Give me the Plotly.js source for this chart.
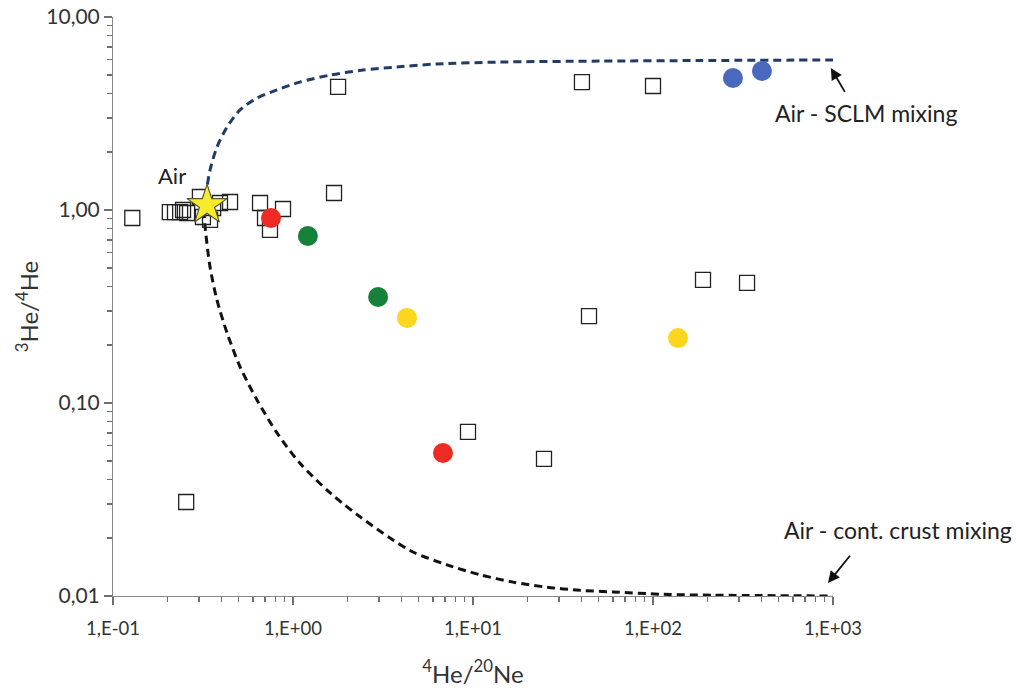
<!DOCTYPE html>
<html>
<head>
<meta charset="utf-8">
<script src="https://cdn.plot.ly/plotly-3.0.1.min.js"></script>
<style>html,body{margin:0;padding:0;background:#fff;}#chart{width:1016px;height:694px;}</style>
</head>
<body>
<div id="chart"></div>
<script>
// Air - SCLM mixing curve
var sclmX = [0.32, 0.333, 0.346, 0.378, 0.430, 0.508, 0.631, 0.815, 1.09, 1.61, 2.45, 3.78, 6.31, 14.1, 50.8, 182, 1000];
var sclmY = [1.0, 1.316, 1.61, 2.12, 2.69, 3.30, 3.80, 4.19, 4.60, 5.00, 5.31, 5.51, 5.71, 5.84, 5.91, 5.95, 5.99];
// Air - continental crust mixing curve
var crustX = [0.32, 0.324, 0.346, 0.378, 0.430, 0.508, 0.631, 0.815, 1.09, 1.61, 2.36, 3.46, 4.64, 7.17, 10.9, 16.7, 25.8, 39.3, 59.9, 113.6, 215, 1000];
var crustY = [1.0, 0.836, 0.507, 0.342, 0.231, 0.154, 0.1037, 0.0700, 0.0489, 0.0342, 0.0257, 0.0200, 0.0169, 0.0145, 0.0129, 0.0118, 0.0111, 0.0107, 0.0105, 0.0102, 0.0101, 0.0100];
// Literature data (open squares)
var litX = [0.128, 0.207, 0.221, 0.236, 0.245, 0.258, 0.304, 0.316, 0.346, 0.360, 0.393, 0.447, 0.656, 0.699, 0.745, 0.880, 1.69, 1.78, 40.3, 100, 189.6, 333, 44.1, 9.38, 24.8, 0.255];
var litY = [0.909, 0.976, 0.976, 0.976, 1.00, 0.965, 1.168, 0.920, 0.888, 1.024, 1.087, 1.10, 1.087, 0.909, 0.788, 1.012, 1.225, 4.34, 4.60, 4.39, 0.434, 0.419, 0.282, 0.0708, 0.0513, 0.0307];
// Samples (coloured circles)
var redX = [0.755, 6.81],  redY = [0.909, 0.0551];
var greenX = [1.21, 2.97], greenY = [0.733, 0.354];
var yellowX = [4.30, 137.7], yellowY = [0.276, 0.217];
var blueX = [278, 403], blueY = [4.83, 5.25];
// Air
var airX = [0.333], airY = [1.06];
// Ticks
var xTickVals = [0.1, 1, 10, 100, 1000];
var xTickText = ['1,E-01', '1,E+00', '1,E+01', '1,E+02', '1,E+03'];
var yTickVals = [0.01, 0.1, 1, 10];
var yTickText = ['0,01', '0,10', '1,00', '10,00'];
var minorDigits = [2, 3, 4, 5, 6, 7, 8, 9];
var xDecades = [0.1, 1, 10, 100];
var yDecades = [0.01, 0.1, 1];

function minorVals(decades) {
  var out = [];
  decades.forEach(function (d) { minorDigits.forEach(function (m) { out.push(d * m); }); });
  return out;
}

var FONT = 'Lato, "Open Sans", sans-serif';
var TICKC = '#6f6f6f';
var traces = [
  {x: sclmX, y: sclmY, mode: 'lines', line: {color: '#1f3b66', width: 3, dash: '8px,5px', shape: 'spline', smoothing: 0.8}, hoverinfo: 'skip'},
  {x: crustX, y: crustY, mode: 'lines', line: {color: '#111111', width: 3, dash: '8px,5px', shape: 'spline', smoothing: 0.8}, hoverinfo: 'skip'},
  {x: litX, y: litY, mode: 'markers', marker: {symbol: 'square-open', size: 15, color: '#222222', line: {width: 1.3, color: '#222222'}}},
  {x: redX, y: redY, mode: 'markers', marker: {symbol: 'circle', size: 20, color: '#ee2a24'}},
  {x: greenX, y: greenY, mode: 'markers', marker: {symbol: 'circle', size: 20, color: '#17803a'}},
  {x: yellowX, y: yellowY, mode: 'markers', marker: {symbol: 'circle', size: 20, color: '#fcd61e'}},
  {x: blueX, y: blueY, mode: 'markers', marker: {symbol: 'circle', size: 20, color: '#4a68bd'}},
  {x: airX, y: airY, mode: 'markers', marker: {symbol: 'star', size: 30, color: '#f7ec2c', line: {width: 1.2, color: '#555533'}}},
  // invisible helper trace so the minor-tick overlay axes are drawn
  {x: airX, y: airY, xaxis: 'x2', yaxis: 'y2', mode: 'markers', marker: {opacity: 0}, hoverinfo: 'skip'}
];

var layout = {
  width: 1016, height: 694,
  margin: {l: 113, r: 183, t: 17, b: 98},
  paper_bgcolor: '#ffffff', plot_bgcolor: '#ffffff',
  showlegend: false,
  font: {family: FONT, color: '#333333'},
  xaxis: {
    type: 'log', range: [-1, 3],
    tickmode: 'array', tickvals: xTickVals, ticktext: xTickText,
    ticks: 'outside', ticklen: 8, tickwidth: 1.5, tickcolor: TICKC,
    ticklabelstandoff: 8,
    showline: true, linecolor: '#888888', linewidth: 1,
    showgrid: false, zeroline: false,
    tickfont: {size: 18.5, family: FONT, color: '#333333'},
    title: {text: '<sup>4</sup>He/<sup>20</sup>Ne', font: {size: 24, family: FONT, color: '#333333'}, standoff: 27}
  },
  yaxis: {
    type: 'log', range: [-2, 1],
    tickmode: 'array', tickvals: yTickVals, ticktext: yTickText,
    ticks: 'outside', ticklen: 8, tickwidth: 1.5, tickcolor: TICKC,
    showline: true, linecolor: '#888888', linewidth: 1,
    showgrid: false, zeroline: false,
    tickfont: {size: 21, family: FONT, color: '#333333'},
    title: {text: '<sup>3</sup>He/<sup>4</sup>He', font: {size: 24, family: FONT, color: '#333333'}, standoff: 0}
  },
  xaxis2: {
    type: 'log', range: [-1, 3], overlaying: 'x', anchor: 'y', side: 'bottom',
    tickmode: 'array', tickvals: minorVals(xDecades), ticktext: minorVals(xDecades).map(function () { return ''; }),
    ticks: 'outside', ticklen: 5, tickwidth: 1.3, tickcolor: TICKC,
    showticklabels: true, showline: false, showgrid: false, zeroline: false
  },
  yaxis2: {
    type: 'log', range: [-2, 1], overlaying: 'y', anchor: 'x', side: 'left',
    tickmode: 'array', tickvals: minorVals(yDecades), ticktext: minorVals(yDecades).map(function () { return ''; }),
    ticks: 'outside', ticklen: 5, tickwidth: 1.3, tickcolor: TICKC,
    showticklabels: true, showline: false, showgrid: false, zeroline: false
  },
  annotations: [
    {xref: 'paper', yref: 'paper', x: 0.082, y: 0.727, xanchor: 'center', yanchor: 'middle', text: 'Air', showarrow: false, font: {size: 22, family: FONT, color: '#222222'}},
    {xref: 'paper', yref: 'paper', x: 1.046, y: 0.834, xanchor: 'center', yanchor: 'middle', text: 'Air - SCLM mixing', showarrow: false, font: {size: 23, family: FONT, color: '#222222'}},
    {xref: 'paper', yref: 'paper', x: 1.090, y: 0.114, xanchor: 'center', yanchor: 'middle', text: 'Air - cont. crust mixing', showarrow: false, font: {size: 23, family: FONT, color: '#222222'}},
    {xref: 'paper', yref: 'paper', x: 0.997, y: 0.912, text: ' ', showarrow: true, ax: 17, ay: 29, arrowhead: 2, arrowsize: 1.3, arrowwidth: 1.8, arrowcolor: '#111111', standoff: 0, startstandoff: 0},
    {xref: 'paper', yref: 'paper', x: 0.993, y: 0.0225, text: ' ', showarrow: true, ax: 25, ay: -31, arrowhead: 2, arrowsize: 1.3, arrowwidth: 1.8, arrowcolor: '#111111', standoff: 0, startstandoff: 0}
  ]
};

Plotly.newPlot('chart', traces, layout, {displayModeBar: false, staticPlot: true});
</script>
</body>
</html>
